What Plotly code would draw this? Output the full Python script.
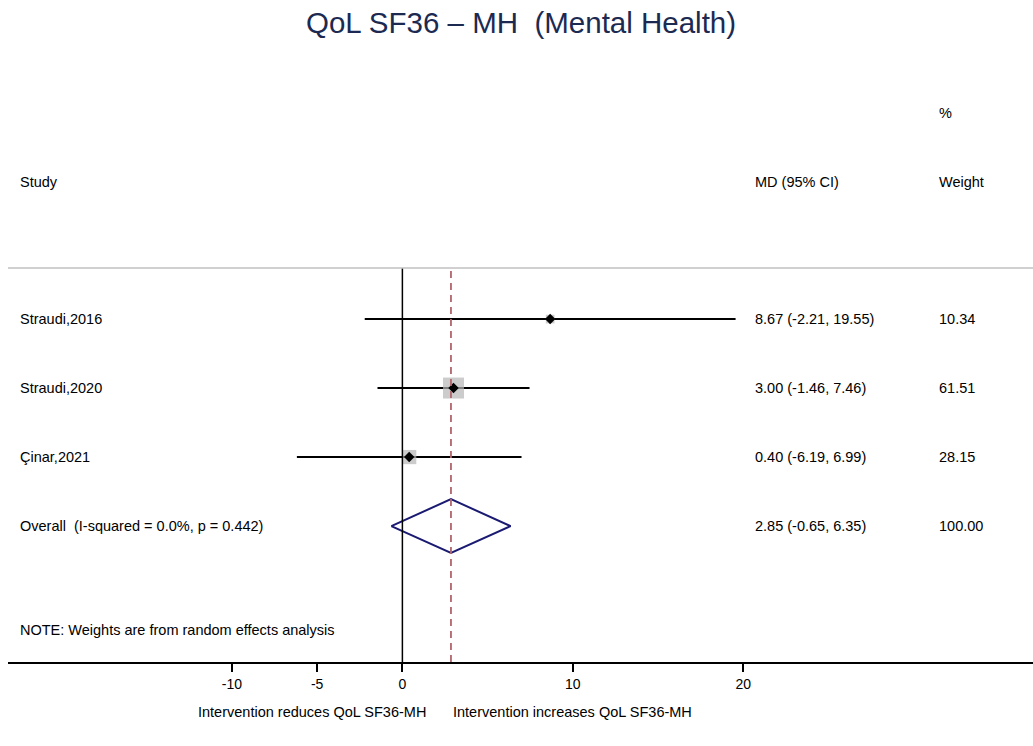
import plotly.graph_objects as go
import numpy as np

# Study-level results (mean difference, 95% CI, random-effects weight)
studies = ["Straudi,2016", "Straudi,2020", "Çinar,2021"]
md = [8.67, 3.00, 0.40]
ci_low = [-2.21, -1.46, -6.19]
ci_high = [19.55, 7.46, 6.99]
weights = [10.34, 61.51, 28.15]

# Pooled estimate
overall_label = "Overall\u00a0\u00a0(I-squared = 0.0%, p = 0.442)"
overall_md = 2.85
overall_low = -0.65
overall_high = 6.35
overall_weight = 100.00

tick_vals = [-10, -5, 0, 10, 20]
tick_text = ["-10", "-5", "0", "10", "20"]

FONT = "Liberation Sans, Arial, sans-serif"
TXT = 14.5

rows = [1, 2, 3]
overall_row = 4
note_row = 5.51

fig = go.Figure()

# Confidence interval lines
for y, lo, hi in zip(rows, ci_low, ci_high):
    fig.add_trace(go.Scatter(x=[lo, hi], y=[y, y], mode="lines",
                             line=dict(color="black", width=2),
                             hoverinfo="skip", showlegend=False))

# Weight boxes (area proportional to weight)
box_sizes = [21 * np.sqrt(w / max(weights)) for w in weights]
fig.add_trace(go.Scatter(x=md, y=rows, mode="markers",
                         marker=dict(symbol="square", size=box_sizes,
                                     color="#b6b6b6", line=dict(width=0)),
                         hoverinfo="skip", showlegend=False))
# Point estimates
fig.add_trace(go.Scatter(x=md, y=rows, mode="markers",
                         marker=dict(symbol="diamond", size=8, color="black",
                                     line=dict(width=0)),
                         hoverinfo="skip", showlegend=False))

# Pooled diamond
h = 0.39
fig.add_trace(go.Scatter(
    x=[overall_low, overall_md, overall_high, overall_md, overall_low],
    y=[overall_row, overall_row - h, overall_row, overall_row + h, overall_row],
    mode="lines", line=dict(color="#1a1a72", width=2),
    hoverinfo="skip", showlegend=False))

# Reference lines
fig.add_shape(type="line", xref="x", yref="paper", x0=0, x1=0, y0=0, y1=1,
              line=dict(color="black", width=1.5))
fig.add_shape(type="line", xref="x", yref="paper", x0=overall_md, x1=overall_md,
              y0=0, y1=1, line=dict(color="#b0666c", width=1.8, dash="7px,5px"))
# Top rule
fig.add_shape(type="line", xref="paper", yref="paper", x0=0, x1=1, y0=1, y1=1,
              line=dict(color="#c0c0c0", width=1.5))

annotations = []

def label(text, xp, y, yref="y", anchor="left"):
    annotations.append(dict(text=text, x=xp, y=y, xref="paper", yref=yref,
                            xanchor=anchor, yanchor="middle", showarrow=False,
                            font=dict(family=FONT, size=TXT, color="black")))

COL_STUDY = 0.0098
COL_MD = 0.7268
COL_W = 0.9063

# Column headers
label("Study", COL_STUDY, 1.218, yref="paper")
label("MD (95% CI)", COL_MD, 1.218, yref="paper")
label("%", COL_W, 1.393, yref="paper")
label("Weight", COL_W, 1.218, yref="paper")

for y, name, m, lo, hi, w in zip(rows, studies, md, ci_low, ci_high, weights):
    label(name, COL_STUDY, y)
    label(f"{m:.2f} ({lo:.2f}, {hi:.2f})", COL_MD, y)
    label(f"{w:.2f}", COL_W, y)

label(overall_label, COL_STUDY, overall_row)
label(f"{overall_md:.2f} ({overall_low:.2f}, {overall_high:.2f})", COL_MD, overall_row)
label(f"{overall_weight:.2f}", COL_W, overall_row)

label("NOTE: Weights are from random effects analysis", COL_STUDY, note_row)

# Direction labels under the axis
annotations.append(dict(text="Intervention reduces QoL SF36-MH", x=1.5, y=-0.127,
                        xref="x", yref="paper", xanchor="right", yanchor="middle",
                        showarrow=False, font=dict(family=FONT, size=TXT, color="black")))
annotations.append(dict(text="Intervention increases QoL SF36-MH", x=2.85, y=-0.127,
                        xref="x", yref="paper", xanchor="left", yanchor="middle",
                        showarrow=False, font=dict(family=FONT, size=TXT, color="black")))

# Title
annotations.append(dict(text="QoL SF36 – MH\u00a0\u00a0(Mental Health)", x=0.5, y=1.624,
                        xref="paper", yref="paper", xanchor="center", yanchor="middle",
                        showarrow=False,
                        font=dict(family="Liberation Sans Narrow, Liberation Sans, Arial", size=29.5,
                                  color="#1c2a52")))

fig.update_layout(
    width=1033, height=746,
    margin=dict(l=8, r=0, t=268, b=84),
    plot_bgcolor="white", paper_bgcolor="white",
    annotations=annotations,
    xaxis=dict(range=[-23.14, 37.0], tickvals=tick_vals, ticktext=tick_text,
               showgrid=False, zeroline=False, showline=True, linecolor="black",
               linewidth=1.5, ticks="outside", ticklen=8, tickwidth=1.5,
               tickcolor="black", tickfont=dict(family=FONT, size=14, color="black"),
               fixedrange=True),
    yaxis=dict(range=[5.97, 0.26], showgrid=False, zeroline=False, showline=False,
               showticklabels=False, ticks="", fixedrange=True),
)

fig.write_html("out.html")
